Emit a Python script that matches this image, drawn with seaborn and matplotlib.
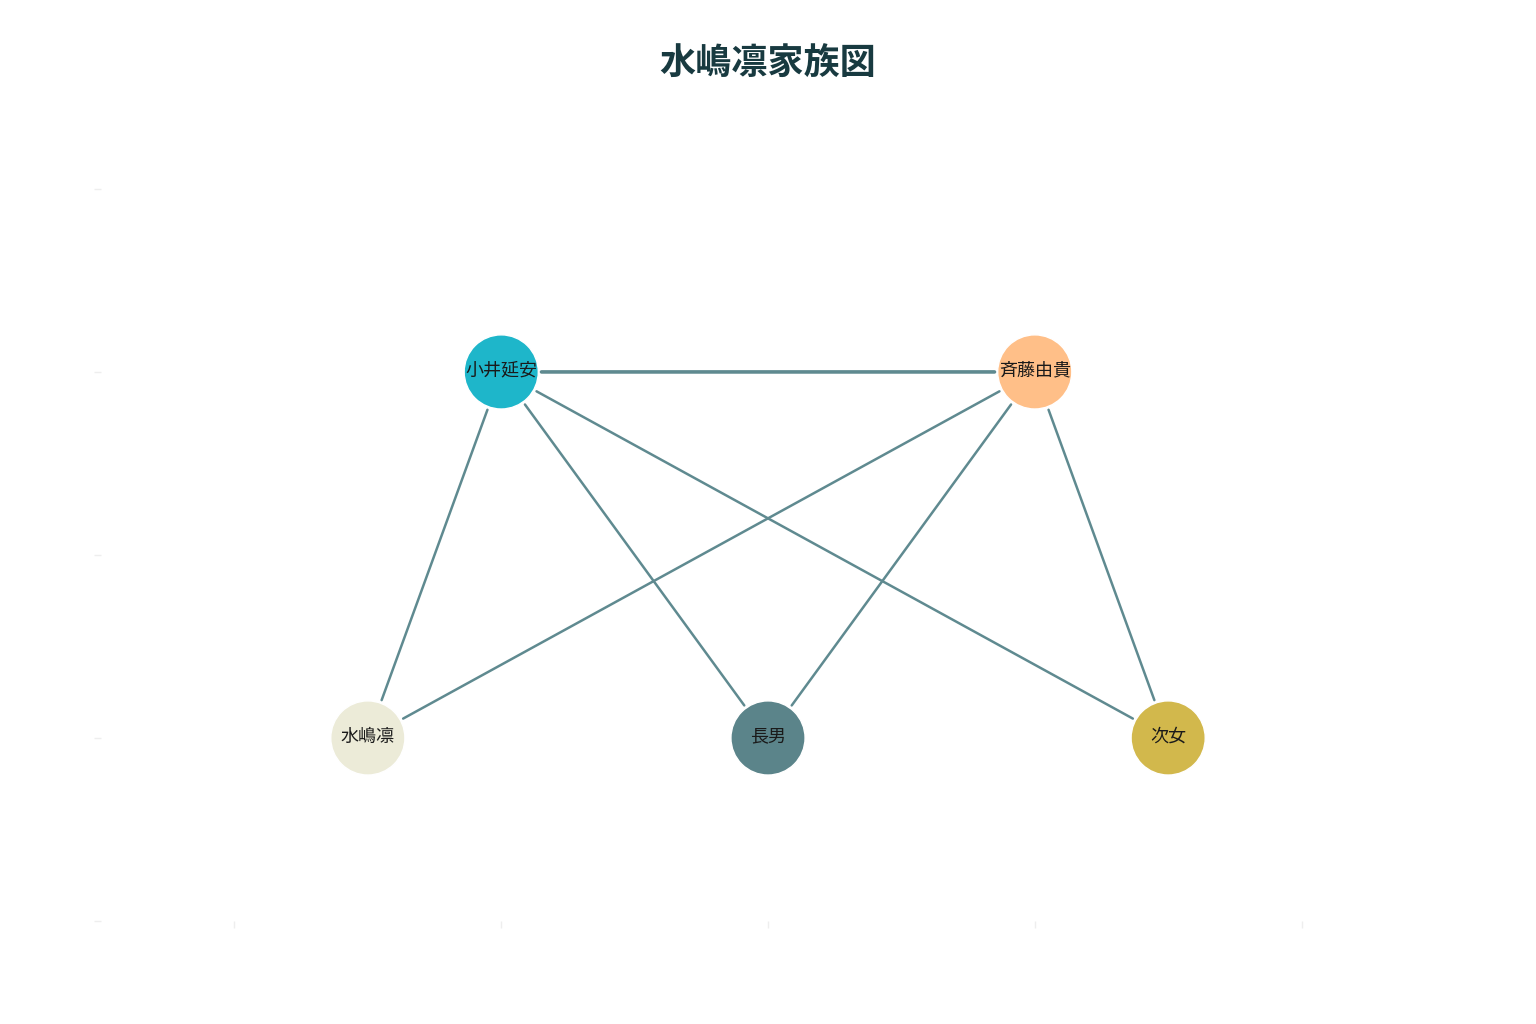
import pandas as pd
import matplotlib
matplotlib.use("Agg")
import matplotlib.pyplot as plt
import seaborn as sns

# family members and layout positions
names = ["小井延安", "斉藤由貴", "水嶋凛", "長男", "次女"]
pos_x = [-0.5, 0.5, -0.75, 0.0, 0.75]
pos_y = [0.5, 0.5, -0.5, -0.5, -0.5]
node_colors = ["#1eb6ca", "#ffbf88", "#eceBd8", "#5b848a", "#d2b84c"]

# relations
edge_src = ["小井延安", "小井延安", "小井延安", "小井延安", "斉藤由貴", "斉藤由貴", "斉藤由貴"]
edge_dst = ["斉藤由貴", "水嶋凛", "長男", "次女", "水嶋凛", "長男", "次女"]
edge_kind = ["spouse", "child", "child", "child", "child", "child", "child"]

sns.set_theme(style="white")
plt.rcParams['font.family'] = ['Noto Sans CJK JP', 'DejaVu Sans']

nodes = pd.DataFrame({"name": names, "x": pos_x, "y": pos_y})
pos = dict(zip(names, zip(pos_x, pos_y)))

fig = plt.figure(figsize=(15.36, 10.24), dpi=100)
ax = fig.add_axes([0.0658, 0.1006, 0.8684, 0.7864])

edge_color = "#5f8a90"
for s, d, k in zip(edge_src, edge_dst, edge_kind):
    ax.annotate("", xy=pos[d], xytext=pos[s], xycoords="data",
                arrowprops=dict(arrowstyle="-", color=edge_color,
                                lw=2.6 if k == "spouse" else 1.8,
                                shrinkA=29, shrinkB=29), zorder=1)

sns.scatterplot(data=nodes, x="x", y="y", hue="name", palette=node_colors,
                s=2850, edgecolor="white", linewidth=1, legend=False, ax=ax, zorder=2)

for n, x, y in zip(names, pos_x, pos_y):
    ax.text(x, y + 0.004, n, ha="center", va="center", fontsize=13, color="#1a1a1a", zorder=3)

ax.set_xlim(-1.25, 1.25)
ax.set_ylim(-1.0, 1.2)
ax.set_xticks([-1, -0.5, 0, 0.5, 1])
ax.set_yticks([-1, -0.5, 0, 0.5, 1])
ax.set_xticklabels([])
ax.set_yticklabels([])
ax.tick_params(axis="both", length=5, width=1, color="#eeeeee", bottom=True, left=True)
for sp in ax.spines.values():
    sp.set_visible(False)
ax.set_xlabel("")
ax.set_ylabel("")

fig.suptitle("水嶋凛家族図", fontsize=26, fontweight="bold", color="#183a40", y=0.955)

fig.savefig("out.png", dpi=100)
